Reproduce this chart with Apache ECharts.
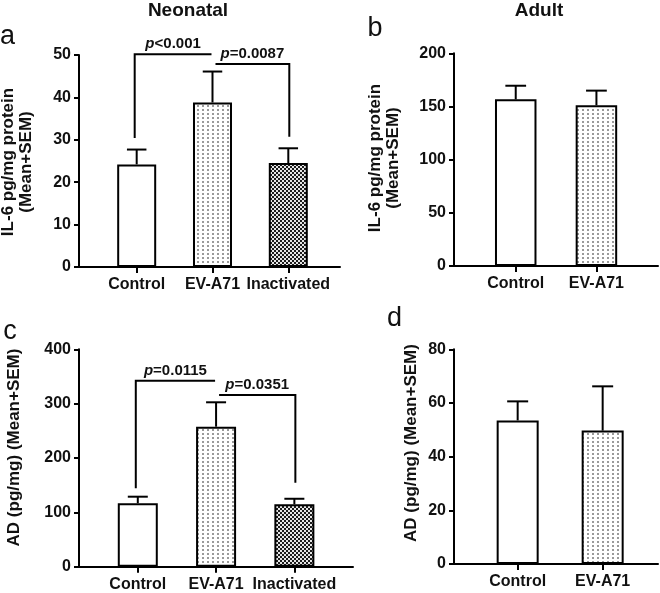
<!DOCTYPE html>
<html><head><meta charset="utf-8">
<script src="https://cdn.jsdelivr.net/npm/echarts@6/dist/echarts.min.js"></script>
<style>html,body{margin:0;padding:0;background:#fff}#c{width:660px;height:593px}</style>
</head><body><div id="c"></div>
<script>
// ---------- data ----------
const categoriesNeonatal = ['Control', 'EV-A71', 'Inactivated'];
const categoriesAdult = ['Control', 'EV-A71'];

const il6NeonatalMean = [24.2, 38.8, 24.5];
const il6NeonatalSem  = [3.5, 7.3, 3.5];
const il6AdultMean    = [156.7, 151.1];
const il6AdultSem     = [12.8, 13.8];
const adNeonatalMean  = [116.7, 257.6, 114.8];
const adNeonatalSem   = [12.1, 44.9, 10.2];
const adAdultMean     = [53.5, 49.7];
const adAdultSem      = [7.1, 16.5];

const il6NeonatalTicks = [0, 10, 20, 30, 40, 50];
const il6AdultTicks    = [0, 50, 100, 150, 200];
const adNeonatalTicks  = [0, 100, 200, 300, 400];
const adAdultTicks     = [0, 20, 40, 60, 80];

// significance brackets: from/to category, leg bottoms, bracket top
const il6NeonatalBrackets = [
  { from: 0, to: 1, leftBase: 30.4, top: 50.2, rightBase: 50.2, p: '<0.001' },
  { from: 1, to: 2, leftBase: 47.9, top: 47.9, rightBase: 30.7, p: '=0.0087' }
];
const adNeonatalBrackets = [
  { from: 0, to: 1, leftBase: 144.3, top: 342.2, rightBase: 342.2, p: '=0.0115' },
  { from: 1, to: 2, leftBase: 316, top: 316, rightBase: 154.6, p: '=0.0351' }
];

// ---------- styles ----------
const FONT = 'Liberation Sans, Arial, sans-serif';
function dotPattern() {
  const c = document.createElement('canvas'); c.width = 5; c.height = 4;
  const g = c.getContext('2d');
  g.fillStyle = '#ffffff'; g.fillRect(0, 0, 5, 4);
  g.fillStyle = '#9a9a9a'; g.fillRect(2, 1, 2, 2);
  return c;
}
function checkPattern() {
  const c = document.createElement('canvas'); c.width = 4; c.height = 4;
  const g = c.getContext('2d');
  g.fillStyle = '#e6e6e6'; g.fillRect(0, 0, 4, 4);
  g.fillStyle = '#1c1c1c'; g.fillRect(0, 0, 2, 2); g.fillRect(2, 2, 2, 2);
  return c;
}
const fills = ['#ffffff', { image: dotPattern(), repeat: 'repeat' }, { image: checkPattern(), repeat: 'repeat' }];

const panels = [
  { cats: categoriesNeonatal, mean: il6NeonatalMean, sem: il6NeonatalSem, ticks: il6NeonatalTicks, brackets: il6NeonatalBrackets,
    grid: { left: 79, top: 55, width: 261, height: 212 }, xmin: -0.761, xmax: 2.682, barWidth: 39 },
  { cats: categoriesAdult, mean: il6AdultMean, sem: il6AdultSem, ticks: il6AdultTicks, brackets: [],
    grid: { left: 454, top: 53.3, width: 204, height: 212.7 }, xmin: -0.765, xmax: 1.763, barWidth: 41.5 },
  { cats: categoriesNeonatal, mean: adNeonatalMean, sem: adNeonatalSem, ticks: adNeonatalTicks, brackets: adNeonatalBrackets,
    grid: { left: 79, top: 349.3, width: 274, height: 217.4 }, xmin: -0.751, xmax: 2.749, barWidth: 40 },
  { cats: categoriesAdult, mean: adAdultMean, sem: adAdultSem, ticks: adAdultTicks, brackets: [],
    grid: { left: 454, top: 349.3, width: 204, height: 214.7 }, xmin: -0.749, xmax: 1.651, barWidth: 42 }
];

const grids = [], xAxes = [], yAxes = [], series = [];
panels.forEach((p, k) => {
  grids.push(Object.assign({ containLabel: false, outerBoundsMode: 'none' }, p.grid));
  const idx = p.cats.map((c, i) => i);
  xAxes.push({
    gridIndex: k, type: 'value', min: p.xmin, max: p.xmax,
    axisLine: { show: true, onZero: false, lineStyle: { color: '#000', width: 2 } },
    axisTick: { show: true, customValues: idx, length: 6, lineStyle: { color: '#000', width: 2 } },
    axisLabel: { show: true, customValues: idx, formatter: v => p.cats[Math.round(v)], margin: 10,
      color: '#111', fontSize: 16, fontWeight: 'bold', fontFamily: FONT },
    splitLine: { show: false }
  });
  const t = p.ticks;
  yAxes.push({
    gridIndex: k, type: 'value', min: t[0], max: t[t.length - 1], interval: t[1] - t[0],
    axisLine: { show: true, onZero: false, lineStyle: { color: '#000', width: 2 } },
    axisTick: { show: true, length: 5, lineStyle: { color: '#000', width: 2 } },
    axisLabel: { margin: 8, color: '#111', fontSize: 16, fontWeight: 'bold', fontFamily: FONT },
    splitLine: { show: false }
  });
  series.push({
    type: 'bar', xAxisIndex: k, yAxisIndex: k, barWidth: p.barWidth, silent: true,
    data: p.mean.map((m, i) => ({ value: [i, m], itemStyle: { color: fills[i] } })),
    itemStyle: { borderColor: '#000', borderWidth: 2 }, z: 2
  });
  const cap = p.barWidth * 0.5;
  series.push({
    type: 'custom', xAxisIndex: k, yAxisIndex: k, silent: true, z: 3, clip: false,
    data: p.mean.map((m, i) => [i, m, m + p.sem[i]]),
    renderItem: (params, api) => {
      const a = api.coord([api.value(0), api.value(1)]);
      const b = api.coord([api.value(0), api.value(2)]);
      const st = { stroke: '#000', lineWidth: 2 };
      return { type: 'group', children: [
        { type: 'line', shape: { x1: a[0], y1: a[1], x2: b[0], y2: b[1] }, style: st },
        { type: 'line', shape: { x1: b[0] - cap / 2, y1: b[1], x2: b[0] + cap / 2, y2: b[1] }, style: st }
      ] };
    }
  });
  if (p.brackets.length) {
    series.push({
      type: 'custom', xAxisIndex: k, yAxisIndex: k, silent: true, z: 4, clip: false,
      data: p.brackets.map(b => [b.from, b.to, b.leftBase, b.top, b.rightBase]),
      renderItem: (params, api) => {
        const b = p.brackets[params.dataIndex];
        const gapL = params.dataIndex === 1 ? 3 : -2;
        const gapR = params.dataIndex === 0 ? -1 : 1;
        const pL = api.coord([b.from, b.leftBase]);
        const pLT = api.coord([b.from, b.top]);
        const pRT = api.coord([b.to, b.top]);
        const pR = api.coord([b.to, b.rightBase]);
        pL[0] += gapL; pLT[0] += gapL; pRT[0] += gapR; pR[0] += gapR;
        const rs = { fontSize: 15, fontWeight: 'bold', fontFamily: FONT, fill: '#111' };
        return { type: 'group', children: [
          { type: 'polyline', shape: { points: [pL, pLT, pRT, pR] }, style: { stroke: '#000', lineWidth: 2, fill: 'none' } },
          { type: 'text', x: (pLT[0] + pRT[0]) / 2, y: pLT[1] - 10,
            style: { text: '{i|p}{n|' + b.p + '}', align: 'center', verticalAlign: 'middle',
              fontSize: 15, fontWeight: 'bold', fontFamily: FONT, fill: '#111',
              rich: { i: Object.assign({ fontStyle: 'italic' }, rs), n: rs } } }
        ] };
      }
    });
  }
});

const tstyle = (txt, size, weight) => ({ text: txt, fontSize: size, fontWeight: weight, fontFamily: FONT,
  fill: '#111', align: 'center', verticalAlign: 'middle', lineHeight: 18 });

const graphic = [
  { type: 'text', x: 188, y: 11, style: tstyle('Neonatal', 19, 'bold') },
  { type: 'text', x: 539, y: 11, style: tstyle('Adult', 19, 'bold') },
  { type: 'text', x: 7.5, y: 37, style: tstyle('a', 27, 'normal') },
  { type: 'text', x: 375, y: 29, style: tstyle('b', 27, 'normal') },
  { type: 'text', x: 10, y: 332, style: tstyle('c', 27, 'normal') },
  { type: 'text', x: 394.5, y: 319, style: tstyle('d', 27, 'normal') },
  { type: 'text', x: 17.5, y: 162, rotation: Math.PI / 2, style: tstyle('IL-6 pg/mg protein\n(Mean+SEM)', 17, 'bold') },
  { type: 'text', x: 384, y: 158, rotation: Math.PI / 2, style: tstyle('IL-6 pg/mg protein\n(Mean+SEM)', 17, 'bold') },
  { type: 'text', x: 14, y: 447.5, rotation: Math.PI / 2, style: tstyle('AD (pg/mg) (Mean+SEM)', 17, 'bold') },
  { type: 'text', x: 411.5, y: 443, rotation: Math.PI / 2, style: tstyle('AD (pg/mg) (Mean+SEM)', 17, 'bold') }
];

const chart = echarts.init(document.getElementById('c'), null, { renderer: 'canvas' });
chart.setOption({
  animation: false, backgroundColor: '#fff',
  grid: grids, xAxis: xAxes, yAxis: yAxes, series: series, graphic: graphic
});
</script></body></html>
